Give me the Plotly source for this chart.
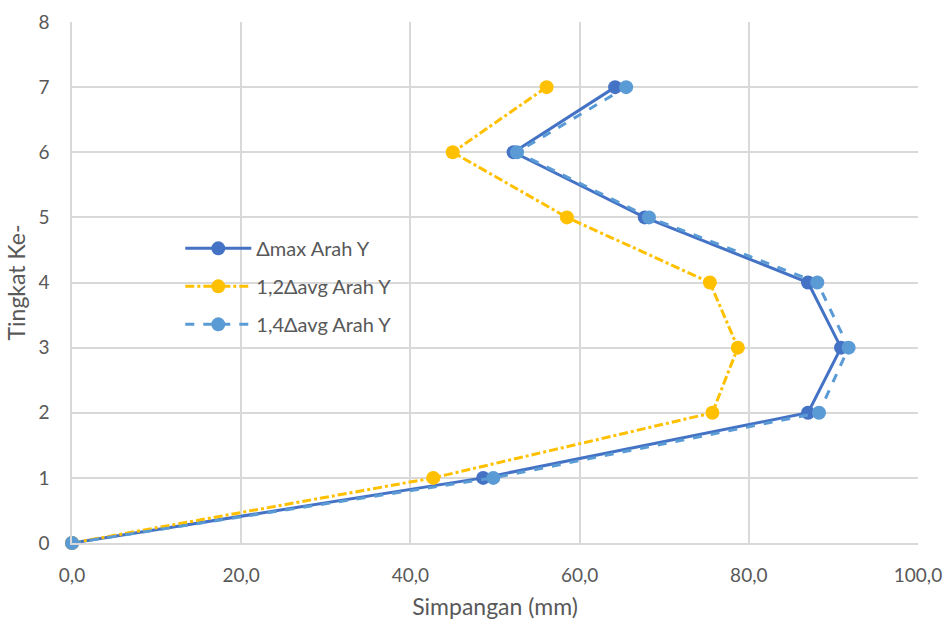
import plotly.graph_objects as go

levels = [0, 1, 2, 3, 4, 5, 6, 7]
delta_max = [0.0, 48.6, 87.0, 90.9, 87.0, 67.7, 52.2, 64.2]
avg_12 = [0.0, 42.7, 75.7, 78.7, 75.4, 58.5, 45.0, 56.1]
avg_14 = [0.0, 49.8, 88.3, 91.8, 88.1, 68.2, 52.6, 65.5]

names = ["Δmax Arah Y", "1,2Δavg Arah Y", "1,4Δavg Arah Y"]
font_family = "Lato, 'Open Sans', sans-serif"
gray = "#595959"

fig = go.Figure()
fig.add_trace(go.Scatter(x=delta_max, y=levels, name=names[0], mode="lines+markers",
                         legendgroup="a", cliponaxis=False,
                         line=dict(color="#4472C4", width=3, dash="solid"),
                         marker=dict(size=14, color="#4472C4")))
fig.add_trace(go.Scatter(x=avg_12, y=levels, name=names[1], mode="lines+markers",
                         legendgroup="b", cliponaxis=False,
                         line=dict(color="#FFC000", width=3, dash="dashdot"),
                         marker=dict(size=14, color="#FFC000")))
fig.add_trace(go.Scatter(x=avg_14, y=levels, name=names[2], mode="lines+markers",
                         legendgroup="c", cliponaxis=False,
                         line=dict(color="#5B9BD5", width=3, dash="dash"),
                         marker=dict(size=14, color="#5B9BD5")))

fig.update_layout(
    width=947, height=622,
    margin=dict(l=72, r=29, t=22, b=79, autoexpand=False),
    paper_bgcolor="white", plot_bgcolor="white",
    separators=",.",
    font=dict(family=font_family, size=19, color=gray),
    legend=dict(x=0.128, y=0.603, xanchor="left", yanchor="top",
                bgcolor="rgba(255,255,255,0)", font=dict(size=20, color=gray),
                tracegroupgap=9, itemwidth=66),
    showlegend=True,
)
fig.update_xaxes(range=[0, 100], dtick=20, tickformat=".1f", automargin=False,
                 showgrid=True, gridcolor="#D9D9D9", gridwidth=1.5,
                 zeroline=False, showline=True, linecolor="#D9D9D9", linewidth=1.5,
                 ticks="", ticklabelstandoff=14,
                 title=dict(text="Simpangan (mm)", font=dict(size=23, color=gray), standoff=14),
                 tickfont=dict(size=19, color=gray))
fig.update_yaxes(range=[0, 8], dtick=1, automargin=False,
                 showgrid=True, gridcolor="#D9D9D9", gridwidth=1.5,
                 zeroline=False, showline=True, linecolor="#D9D9D9", linewidth=1.5,
                 ticks="", ticklabelstandoff=17,
                 title=dict(text="Tingkat Ke-", font=dict(size=23, color=gray), standoff=6),
                 tickfont=dict(size=19, color=gray))

fig.write_html("out.html")
